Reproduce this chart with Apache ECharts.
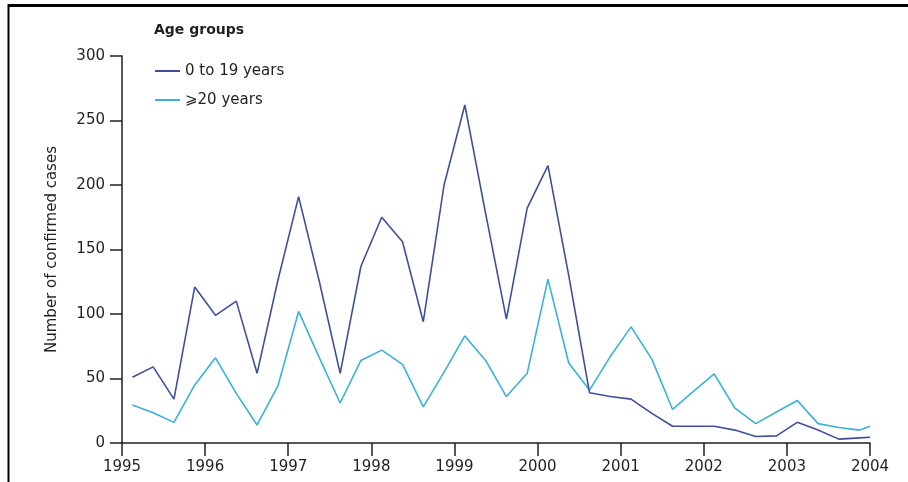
<!DOCTYPE html>
<html>
<head>
<meta charset="utf-8">
<script src="https://cdn.jsdelivr.net/npm/echarts@6/dist/echarts.min.js"></script>
<style>
html,body{margin:0;padding:0;background:#fff;}
#chart{width:908px;height:482px;}
</style>
</head>
<body>
<div id="chart"></div>
<script>
// Quarterly observation times (decimal years, quarter midpoints), plus start of 2004
var times = [
  1995.125, 1995.375, 1995.625, 1995.875,
  1996.125, 1996.375, 1996.625, 1996.875,
  1997.125, 1997.375, 1997.625, 1997.875,
  1998.125, 1998.375, 1998.625, 1998.875,
  1999.125, 1999.375, 1999.625, 1999.875,
  2000.125, 2000.375, 2000.625, 2000.875,
  2001.125, 2001.375, 2001.625, 2001.875,
  2002.125, 2002.375, 2002.625, 2002.875,
  2003.125, 2003.375, 2003.625, 2003.875,
  2004.0
];
var young = [
  51, 59, 34, 121,
  99, 110, 54, 126,
  191, 125, 54, 137,
  175, 156, 94, 200,
  262, 178, 96, 182,
  215, 130, 39, 36,
  34, 23, 13, 13,
  13, 10, 5, 5.5,
  16, 10, 3, 4,
  4.5
];
var adult = [
  29.5, 23.5, 16, 45,
  66, 38.5, 14, 44,
  102, 66, 31, 64,
  72, 61, 28, 55,
  83, 64, 36, 54,
  127, 62, 41, 67,
  90, 65, 26, 40,
  53.5, 27, 15, 24,
  33, 15, 12, 10,
  13
];
var seriesNames = ['0 to 19 years', '\u2A7E20 years'];
var yTicks = [0, 50, 100, 150, 200, 250, 300];
var xTicks = [1995, 1996, 1997, 1998, 1999, 2000, 2001, 2002, 2003, 2004];

function pairs(xs, ys) {
  return xs.map(function (x, i) { return [x, ys[i]]; });
}

var font = 'DejaVu Sans, Noto Sans, sans-serif';
var textColor = '#231f20';
var axisColor = '#231f20';

var chart = echarts.init(document.getElementById('chart'), null, {renderer: 'canvas'});
chart.setOption({
  animation: false,
  backgroundColor: '#fff',
  title: {
    text: 'Age groups',
    left: 149,
    top: 18,
    textStyle: {fontFamily: font, fontSize: 14, fontWeight: 'bold', color: textColor}
  },
  legend: {
    orient: 'vertical',
    left: 150,
    top: 57,
    itemWidth: 25,
    itemHeight: 2,
    itemGap: 11,
    icon: 'rect',
    data: seriesNames,
    textStyle: {fontFamily: font, fontSize: 15, color: textColor, lineHeight: 18}
  },
  grid: {left: 122, right: 38, top: 56, bottom: 39, containLabel: false},
  xAxis: {
    type: 'value',
    min: xTicks[0],
    max: xTicks[xTicks.length - 1],
    interval: 1,
    axisLine: {show: true, lineStyle: {color: axisColor, width: 1.5}},
    axisTick: {show: true, inside: false, length: 13, lineStyle: {color: axisColor, width: 1.5}},
    axisLabel: {
      margin: 17,
      fontFamily: font, fontSize: 15, color: textColor,
      formatter: function (v) { return String(Math.round(v)); }
    },
    splitLine: {show: false}
  },
  yAxis: {
    type: 'value',
    min: yTicks[0],
    max: yTicks[yTicks.length - 1],
    interval: 50,
    name: 'Number of confirmed cases',
    nameLocation: 'middle',
    nameGap: 62,
    nameTextStyle: {fontFamily: font, fontSize: 15, color: textColor},
    axisLine: {show: true, lineStyle: {color: axisColor, width: 1.5}},
    axisTick: {show: true, inside: false, length: 12, lineStyle: {color: axisColor, width: 1.5}},
    axisLabel: {margin: 17, fontFamily: font, fontSize: 15, color: textColor},
    splitLine: {show: false}
  },
  series: [
    {
      name: seriesNames[0],
      type: 'line',
      data: pairs(times, young),
      symbol: 'none',
      showSymbol: false,
      lineStyle: {color: '#3f509a', width: 1.6},
      itemStyle: {color: '#3f509a'},
      z: 3
    },
    {
      name: seriesNames[1],
      type: 'line',
      data: pairs(times, adult),
      symbol: 'none',
      showSymbol: false,
      lineStyle: {color: '#3bb1d9', width: 1.6},
      itemStyle: {color: '#3bb1d9'},
      z: 2
    }
  ],
  graphic: [
    {type: 'line', shape: {x1: 8, y1: 5.5, x2: 908, y2: 5.5}, style: {stroke: '#000', lineWidth: 3}},
    {type: 'line', shape: {x1: 8.5, y1: 4, x2: 8.5, y2: 482}, style: {stroke: '#000', lineWidth: 2}}
  ]
});
</script>
</body>
</html>
